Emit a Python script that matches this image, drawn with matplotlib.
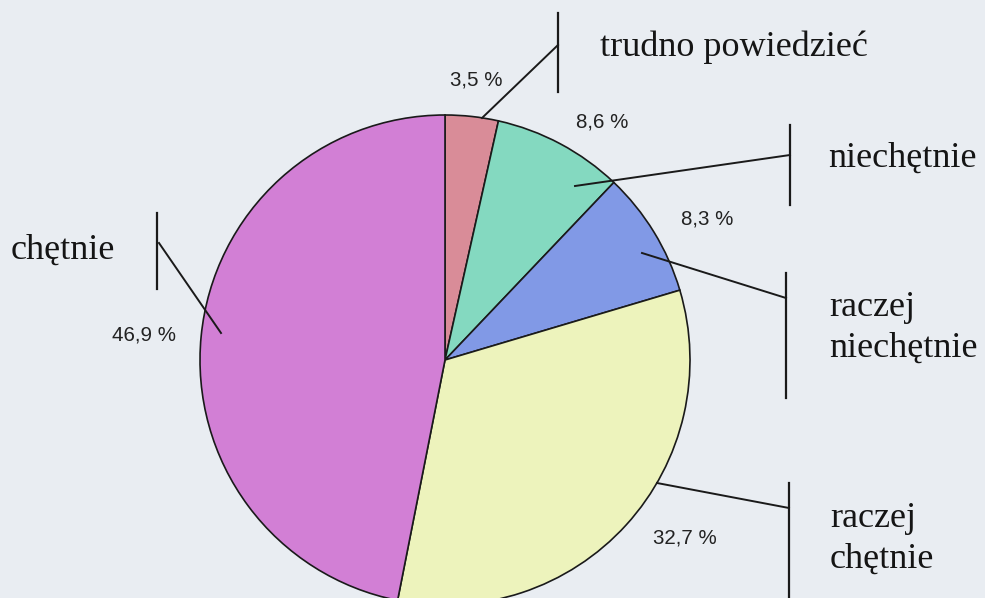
import matplotlib
matplotlib.use("Agg")
import matplotlib.pyplot as plt

# survey answers, clockwise from the top
categories = ["trudno powiedzieć", "niechętnie", "raczej\nniechętnie",
              "raczej\nchętnie", "chętnie"]
shares = [3.5, 8.6, 8.3, 32.7, 46.9]
pct_labels = [f"{v:.1f} %".replace(".", ",") for v in shares]

colors = ["#d98c98", "#84d9c0", "#8199e6", "#edf3bc", "#d27fd5"]
bg = "#e9edf2"

fig = plt.figure(figsize=(9.85, 5.98), dpi=100, facecolor=bg)
ax = fig.add_axes([0, 0, 1, 1])
ax.set_facecolor(bg)

# pie in pixel-like coordinates (y grows downward, so counterclock=True
# shows up clockwise on screen)
cx, cy, r = 445, 360, 245
wedges, _ = ax.pie(shares, colors=colors, center=(cx, cy), radius=r,
                   startangle=-90, counterclock=True,
                   wedgeprops=dict(edgecolor="#1a1a1a", linewidth=1.2))

ax.set_xlim(0, 985)
ax.set_ylim(598, 0)
ax.set_aspect("equal")
ax.axis("off")

# leader lines: (start in slice, joint on bar), bar (x, y0, y1)
leaders = [
    ((482, 118), (558, 45), (558, 13, 92)),
    ((575, 186), (790, 155), (790, 125, 205)),
    ((642, 253), (786, 298), (786, 273, 398)),
    ((657, 483), (789, 508), (789, 483, 600)),
    ((221, 333), (159, 243), (157, 213, 289)),
]
for (p0, p1, bar) in leaders:
    ax.plot([p0[0], p1[0]], [p0[1], p1[1]], color="#1a1a1a", lw=1.4)
    ax.plot([bar[0], bar[0]], [bar[1], bar[2]], color="#1a1a1a", lw=1.6)

# category text
label_pos = [(600, 47), (828, 158), (829, 328), (830, 539), (11, 250)]
for txt, (x, y) in zip(categories, label_pos):
    ax.text(x, y, txt, ha="left", va="center", fontsize=26,
            family="Liberation Serif", color="#151515", linespacing=1.3)

# percentage text
pct_pos = [(476, 80), (602, 122), (707, 219), (685, 538), (144, 335)]
for txt, (x, y) in zip(pct_labels, pct_pos):
    ax.text(x, y, txt, ha="center", va="center", fontsize=14.8,
            family="Liberation Sans", color="#222222")

fig.savefig("out.png", dpi=100, facecolor=bg)
